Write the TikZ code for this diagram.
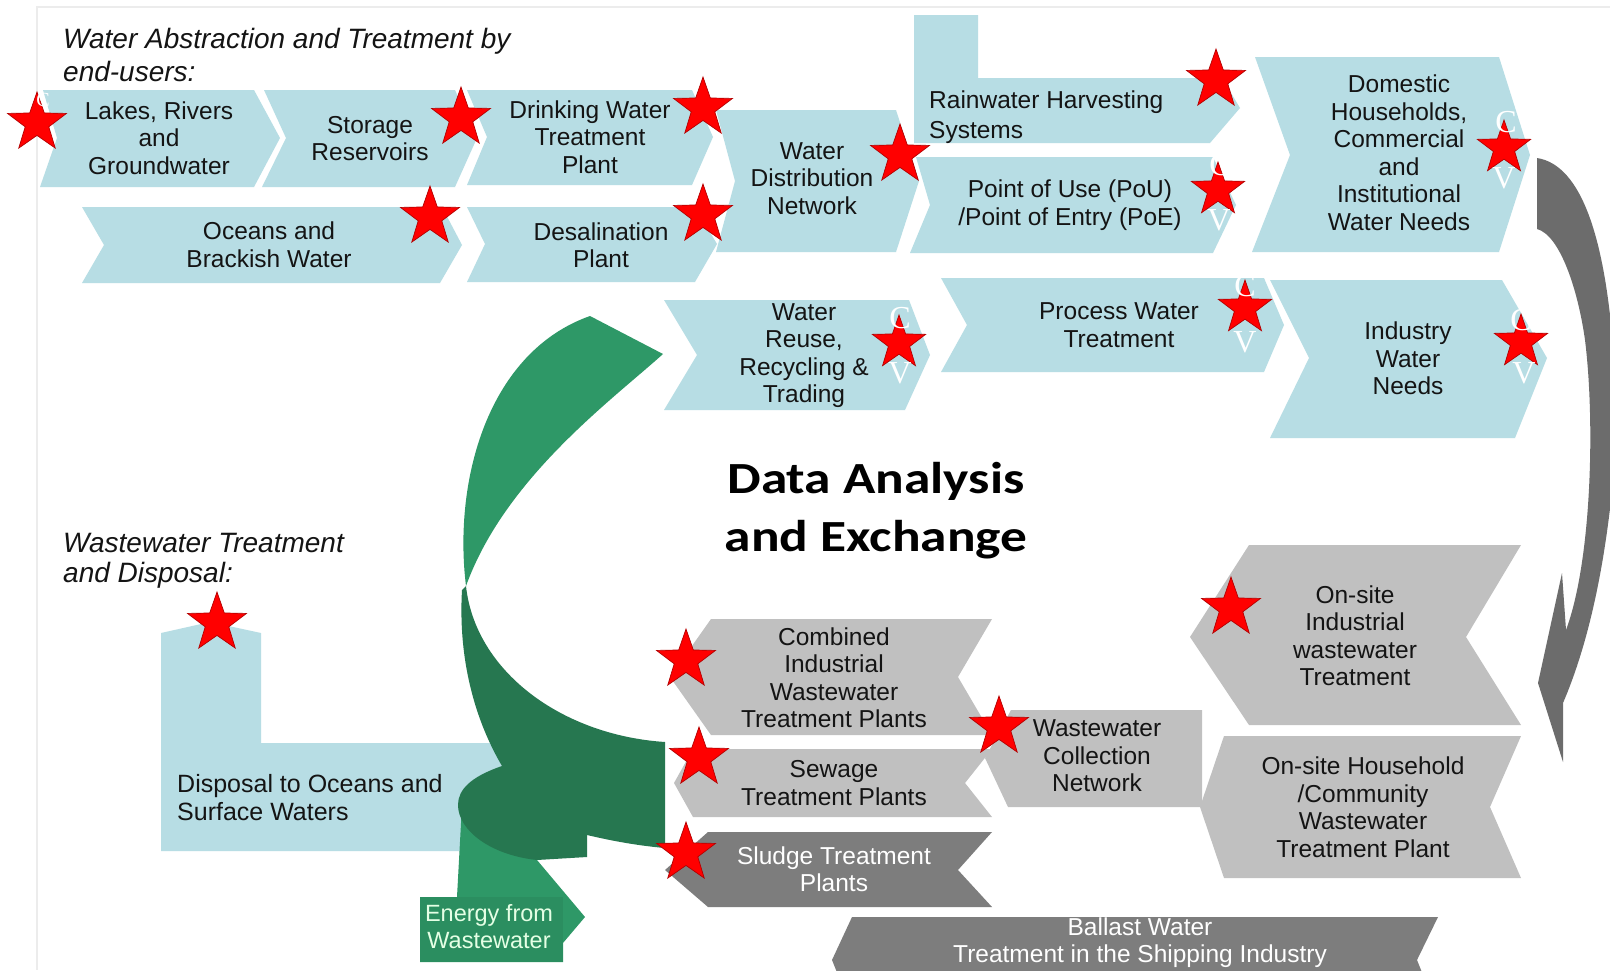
\documentclass[tikz,border=0pt]{standalone}
\usepackage{fontspec}
\setmainfont{Liberation Sans}
\newfontfamily\dafont[FakeStretch=1.2]{Carlito}
\newfontfamily\serifc{Liberation Serif}
\usetikzlibrary{shapes.geometric}
\definecolor{wblue}{RGB}{183,221,228}
\definecolor{lgray}{RGB}{192,192,192}
\definecolor{dgray}{RGB}{125,125,125}
\definecolor{agray}{RGB}{108,108,108}
\definecolor{lgreen}{RGB}{46,152,103}
\definecolor{dgreen}{RGB}{38,119,80}
\definecolor{egreen}{RGB}{43,142,96}
\definecolor{txt}{RGB}{20,20,20}
\definecolor{framec}{RGB}{236,236,236}
\begin{document}
\begin{tikzpicture}[x=1pt,y=-1pt,
  lbl/.style={align=center,inner sep=0,text=txt,font=\fontsize{24.5}{27.5}\selectfont},
  wlbl/.style={lbl,text=white},
  ttl/.style={align=left,inner sep=0,text=txt,font=\itshape\fontsize{28}{33}\selectfont},
  rstar/.style={star,star points=5,star point ratio=2.5,minimum size=62pt,inner sep=0,fill=red,draw=red!70!black,line width=0.7pt},
  sstar/.style={rstar,minimum size=56pt},
  cv/.style={text=white,font=\serifc\fontsize{32}{32}\selectfont,inner sep=0}]
\useasboundingbox (0,0) rectangle (1610,970);
\fill[white] (0,0) rectangle (1610,970);
\draw[framec,line width=1.5pt] (37,970) -- (37,7) -- (1610,7);

% ---------- titles ----------
\node[ttl,anchor=base west] (t1) at (63,81) {Water Abstraction and Treatment by\\end-users:};
\node[ttl,anchor=base west,font=\itshape\fontsize{28}{29.5}\selectfont] (t2) at (63,582) {Wastewater Treatment\\and Disposal:};

% ---------- blue boxes ----------
\fill[wblue] (43,90) -- (254,90) -- (280,138) -- (254,187) -- (40,187) -- (57,138) -- cycle;
\fill[wblue] (264,90) -- (455,90) -- (477,138) -- (455,187) -- (262,187) -- (286,138) -- cycle;
\fill[wblue] (467,90) -- (692,90) -- (713,137) -- (692,185) -- (467,185) -- (487,137) -- cycle;
\fill[wblue] (82,207) -- (442,207) -- (462,245) -- (440,283) -- (82,283) -- (104,245) -- cycle;
\fill[wblue] (467,207) -- (695,207) -- (717,244) -- (695,282) -- (467,282) -- (485,244) -- cycle;
\fill[wblue] (716,110) -- (896,110) -- (919,181) -- (896,252) -- (716,252) -- (735,181) -- cycle;
\fill[wblue] (914,15) -- (978,15) -- (978,78) -- (1222,78) -- (1240,108) -- (1210,143) -- (914,143) -- cycle;
\fill[wblue] (916,157) -- (1213,157) -- (1236,205) -- (1213,253) -- (910,253) -- (930,205) -- cycle;
\fill[wblue] (1255,57) -- (1499,57) -- (1530,155) -- (1499,252) -- (1252,252) -- (1290,155) -- cycle;
\fill[wblue] (664,300) -- (909,300) -- (930,355) -- (905,410) -- (664,410) -- (697,355) -- cycle;
\fill[wblue] (941,278) -- (1264,278) -- (1284,325) -- (1264,372) -- (941,372) -- (967,325) -- cycle;
\fill[wblue] (1270,280) -- (1502,280) -- (1547,358) -- (1515,438) -- (1270,438) -- (1309,358) -- cycle;
% disposal L-shape
\fill[wblue] (161,633) -- (210,622) -- (261,633) -- (261,743) -- (515,743) -- (515,851) -- (161,851) -- cycle;

% ---------- gray curved arrow ----------
\fill[agray] (1537,158) .. controls (1582,165) and (1606,240) .. (1614,360) -- (1614,470)
  .. controls (1606,560) and (1590,640) .. (1563,703) -- (1563,762) -- (1538,683) -- (1562,573) -- (1566,630)
  .. controls (1592,560) and (1595,420) .. (1585,340) .. controls (1578,290) and (1560,235) .. (1537,229) -- cycle;

% ---------- green ribbon ----------
\fill[lgreen] (462,805) -- (537,860) -- (585,917) -- (563,943) -- (563,962) -- (420,962) -- (420,897) -- (457,897) -- cycle;
\fill[egreen] (420,897) rectangle (563,962);
\fill[lgreen] (590,316) -- (663,354) .. controls (612,400) and (505,478) .. (466,586)
  .. controls (453,480) and (488,352) .. (590,316) -- cycle;
\fill[dgreen] (466,586) .. controls (475,670) and (560,735) .. (665,742) -- (665,848)
  .. controls (630,845) and (600,838) .. (587,835) -- (587,857) -- (537,860)
  .. controls (490,855) and (458,830) .. (458,805) .. controls (458,790) and (470,777) .. (502,766)
  .. controls (475,720) and (458,660) .. (462,590) -- cycle;

% ---------- gray boxes ----------
\fill[lgray] (711,619) -- (992,619) -- (958,677) -- (992,735) -- (711,735) -- (670,677) -- cycle;
\fill[lgray] (693,749) -- (992,749) -- (965,783) -- (992,817) -- (693,817) -- (674,783) -- cycle;
\fill[dgray] (708,832) -- (992,832) -- (958,870) -- (992,907) -- (708,907) -- (665,870) -- cycle;
\fill[lgray] (1011,710) -- (1202,710) -- (1202,807) -- (1008,807) -- (985,758) -- cycle;
\fill[lgray] (1249,545) -- (1521,545) -- (1466,637) -- (1521,725) -- (1249,725) -- (1190,637) -- cycle;
\fill[lgray] (1224,736) -- (1521,736) -- (1490,807) -- (1521,878) -- (1224,878) -- (1200,807) -- cycle;
\fill[dgray] (852,917) -- (1438,917) -- (1417,960) -- (1423,975) -- (838,975) -- (832,960) -- cycle;

% ---------- labels ----------
\node[lbl] (lakes) at (159,138) {Lakes, Rivers\\and\\Groundwater};
\node[lbl] (stor) at (370,138.5) {Storage\\Reservoirs};
\node[lbl] (drink) at (590,137) {Drinking Water\\Treatment\\Plant};
\node[lbl] (ocean) at (269,244.5) {Oceans and\\Brackish Water};
\node[lbl] (desal) at (601,245) {Desalination\\Plant};
\node[lbl] (wdn) at (812,178.5) {Water\\Distribution\\Network};
\node[lbl,align=left,anchor=west,font=\fontsize{24.5}{30}\selectfont] (rain) at (929,117) {Rainwater Harvesting\\Systems};
\node[lbl] (pou) at (1070,205) {Point of Use (PoU)\\/Point of Entry (PoE)};
\node[lbl] (dom) at (1399,152.5) {Domestic\\Households,\\Commercial\\and\\Institutional\\Water Needs};
\node[lbl] (reuse) at (804,355.5) {Water\\Reuse,\\Recycling \&\\Trading};
\node[lbl] (proc) at (1119,325) {Process Water\\Treatment};
\node[lbl] (ind) at (1408,358.5) {Industry\\Water\\Needs};
\node[lbl] (comb) at (834,677.5) {Combined\\Industrial\\Wastewater\\Treatment Plants};
\node[lbl] (sew) at (834,783) {Sewage\\Treatment Plants};
\node[wlbl] (sludge) at (834,869) {Sludge Treatment\\Plants};
\node[lbl] (wcn) at (1097,756) {Wastewater\\Collection\\Network};
\node[lbl] (onind) at (1355,635.5) {On-site\\Industrial\\wastewater\\Treatment};
\node[lbl] (onhh) at (1363,807) {On-site Household\\/Community\\Wastewater\\Treatment Plant};
\node[wlbl] (ballast) at (1140,942.5) {Ballast Water\\Treatment in the Shipping Industry};
\node[lbl,align=left,anchor=west,font=\fontsize{25}{28}\selectfont] (disp) at (177,798) {Disposal to Oceans and\\Surface Waters};
\node[lbl,text=white!90!green,font=\fontsize{23.5}{27}\selectfont] (energy) at (489,927) {Energy from\\Wastewater};
\node[align=center,inner sep=0,text=black,font=\dafont\bfseries\fontsize{44.5}{58}\selectfont] (data) at (876,511) {Data Analysis\\and Exchange};

% ---------- stars ----------
\node[rstar] (s1) at (37,123) {};
\node[cv,font=\serifc\fontsize{20}{20}\selectfont] (c1) at (43,100) {C};
\node[rstar] (s2) at (461,118) {};
\node[rstar] (s3) at (703,108) {};
\node[rstar] (s4) at (430,217) {};
\node[rstar] (s5) at (703,215) {};
\node[rstar] (s6) at (900,155) {};
\node[rstar] (s7) at (1216,80) {};
\node[sstar] (s8) at (1218,190) {};
\node[cv] (c8) at (1220,165) {C};
\node[cv] (v8) at (1219,220) {V};
\node[sstar] (s9) at (1504,148) {};
\node[cv] (c9) at (1506,122) {C};
\node[cv] (v9) at (1504,178) {V};
\node[sstar] (s10) at (899,343) {};
\node[cv] (c10) at (900,318) {C};
\node[cv] (v10) at (900,373) {V};
\node[sstar] (s11) at (1245,308) {};
\node[cv] (c11) at (1245,286) {C};
\node[cv] (v11) at (1245,342) {V};
\node[sstar] (s12) at (1521,342) {};
\node[cv] (c12) at (1521,320) {C};
\node[cv] (v12) at (1524,373) {V};
\node[rstar] (s13) at (217,623) {};
\node[rstar] (s14) at (1231,608) {};
\node[rstar] (s15) at (686,660) {};
\node[rstar] (s16) at (699,758) {};
\node[rstar] (s17) at (999,727) {};
\node[rstar] (s18) at (686,853) {};
\end{tikzpicture}
\end{document}
